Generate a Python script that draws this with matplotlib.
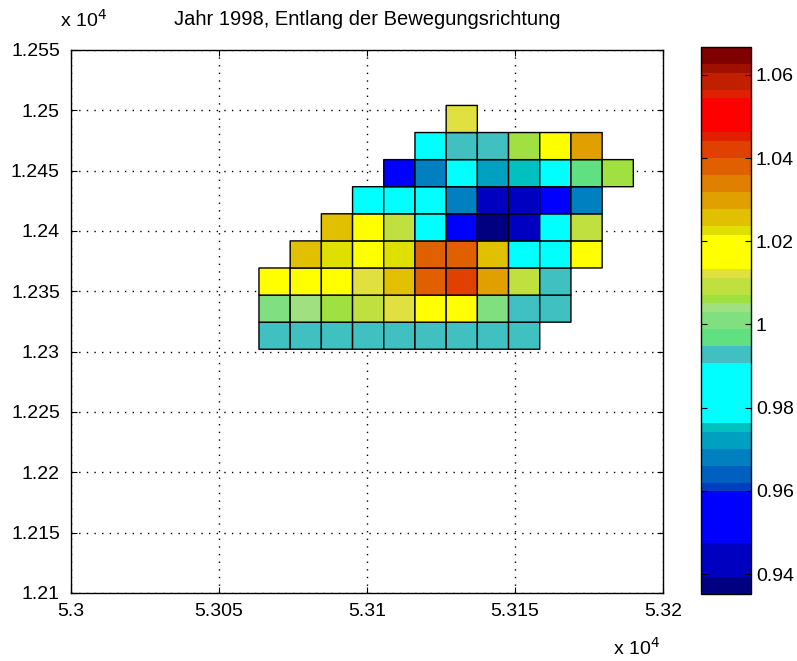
import numpy as np
import matplotlib
matplotlib.use('Agg')
import matplotlib.pyplot as plt
from matplotlib.colors import ListedColormap

plt.rcParams['font.family'] = ['Liberation Sans', 'DejaVu Sans']

# Zellenraster (Rechts-/Hochwert in m)
x0, dx, nx = 53063.5, 10.54, 12
y0, dy, ny = 12302.0, 22.45, 9

nan = np.nan
# Werte je Zeile, von unten nach oben
row1 = [0.993, 0.993, 0.993, 0.993, 0.993, 0.993, 0.993, 0.993, 0.993, nan, nan, nan]
row2 = [1.001, 1.004, 1.006, 1.009, 1.012, 1.017, 1.017, 1.001, 0.993, 0.993, nan, nan]
row3 = [1.017, 1.017, 1.017, 1.012, 1.026, 1.038, 1.042, 1.030, 1.009, 0.993, nan, nan]
row4 = [nan, 1.026, 1.0225, 1.017, 1.0225, 1.038, 1.038, 1.026, 0.983, 0.983, 1.017, nan]
row5 = [nan, nan, 1.026, 1.017, 1.009, 0.983, 0.954, 0.937, 0.943, 0.983, 1.009, nan]
row6 = [nan, nan, nan, 0.983, 0.983, 0.983, 0.968, 0.943, 0.943, 0.954, 0.968, nan]
row7 = [nan, nan, nan, nan, 0.954, 0.968, 0.983, 0.972, 0.975, 0.983, 0.997, 1.006]
row8 = [nan, nan, nan, nan, nan, 0.983, 0.993, 0.993, 1.006, 1.017, 1.030, nan]
row9 = [nan, nan, nan, nan, nan, nan, 1.012, nan, nan, nan, nan, nan]

cmin, cmax = 0.9352, 1.0667

# Farbtabelle (64 Stufen): Farbe und Anzahl Stufen, von unten
cmap_bands = [
    ((0, 0, 128), 2), ((0, 0, 192), 4), ((0, 0, 255), 6), ((0, 64, 192), 1),
    ((0, 96, 192), 2), ((0, 128, 192), 2), ((0, 160, 192), 2), ((0, 192, 192), 1),
    ((0, 255, 255), 7), ((64, 192, 192), 2), ((96, 224, 128), 2), ((128, 224, 128), 2),
    ((160, 224, 128), 1), ((160, 224, 64), 1), ((192, 224, 64), 2), ((224, 224, 64), 1),
    ((255, 255, 0), 4), ((224, 224, 0), 1), ((224, 192, 0), 2), ((224, 160, 0), 2),
    ((224, 128, 0), 2), ((224, 96, 0), 2), ((224, 64, 0), 2), ((224, 32, 0), 1),
    ((255, 0, 0), 4), ((224, 32, 0), 1), ((192, 32, 0), 2), ((160, 16, 0), 1),
    ((128, 0, 0), 2),
]
colors = []
for c, n in cmap_bands:
    colors += [tuple(v / 255 for v in c)] * n
cmap = ListedColormap(colors)

C = np.ma.masked_invalid(np.array([row1, row2, row3, row4, row5, row6, row7, row8, row9]))
xe = x0 + dx * np.arange(nx + 1)
ye = y0 + dy * np.arange(ny + 1)

fig = plt.figure(figsize=(7.97, 6.61), dpi=100)
ax = fig.add_axes([71 / 797, 68 / 661, 592 / 797, 543 / 661])
cax = fig.add_axes([701 / 797, 67 / 661, 50 / 797, 547 / 661])

# pcolor laesst maskierte Zellen ganz weg (auch die Raender)
pc = ax.pcolor(xe, ye, C, cmap=cmap, vmin=cmin, vmax=cmax,
               edgecolors='k', linewidth=1.0)

ax.set_xlim(53000, 53200)
ax.set_ylim(12100, 12550)
xt = np.arange(53000, 53201, 50)
yt = np.arange(12100, 12551, 50)
ax.set_xticks(xt)
ax.set_yticks(yt)
ax.set_xticklabels(['%g' % (v / 1e4) for v in xt])
ax.set_yticklabels(['%g' % (v / 1e4) for v in yt])
ax.tick_params(direction='in', top=True, right=True, length=4, labelsize=14)
ax.tick_params(axis='x', pad=7)
ax.tick_params(axis='y', pad=8)
ax.grid(True, color='k', linestyle=(0, (1, 4.5)), linewidth=1.0)
ax.set_axisbelow(True)
for s in ax.spines.values():
    s.set_linewidth(1.0)

ax.set_title('Jahr 1998, Entlang der Bewegungsrichtung', fontsize=14.5, pad=18)
fig.text(60 / 797, 1 - 27 / 661, 'x 10$^{4}$', fontsize=14)
fig.text(613 / 797, 1 - 655 / 661, 'x 10$^{4}$', fontsize=14)

cb = fig.colorbar(pc, cax=cax)
cb.set_ticks([0.94, 0.96, 0.98, 1.0, 1.02, 1.04, 1.06])
cb.set_ticklabels(['0.94', '0.96', '0.98', '1', '1.02', '1.04', '1.06'])
cax.tick_params(direction='in', left=True, right=True, length=4, labelsize=14)
cb.outline.set_linewidth(1.0)

fig.savefig('out.png', dpi=100)
